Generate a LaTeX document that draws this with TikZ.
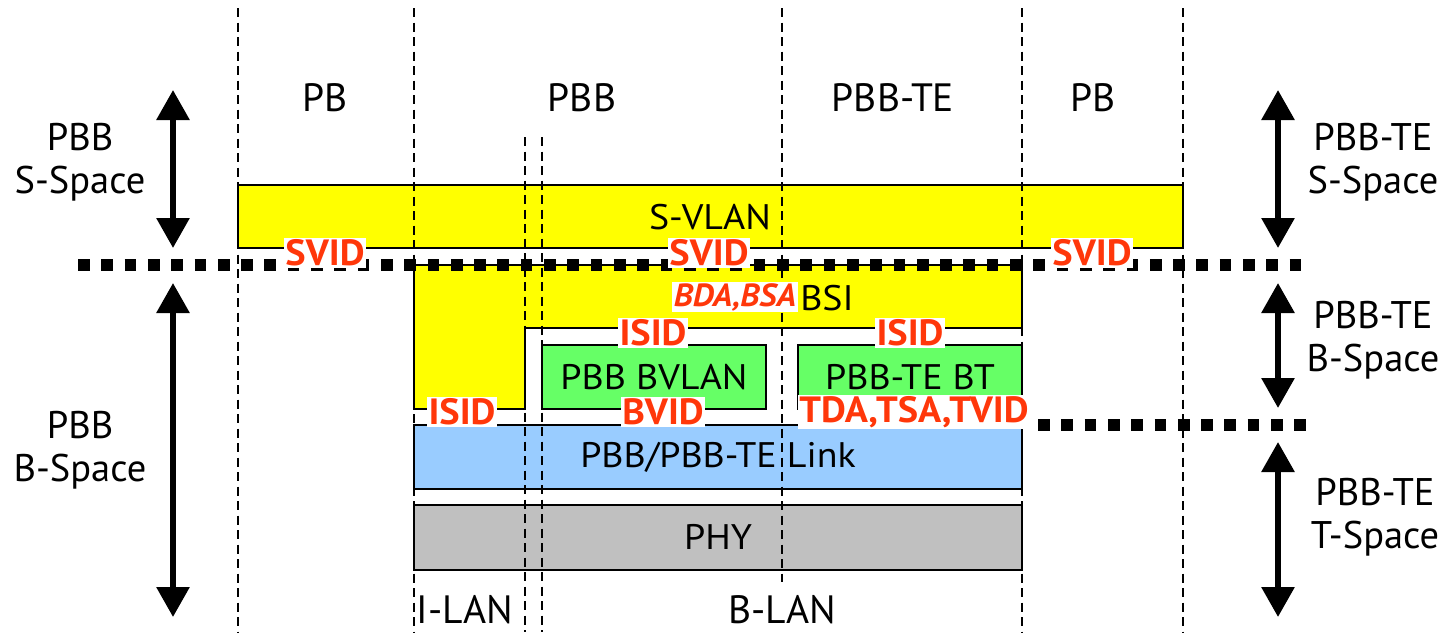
\documentclass[tikz,border=0pt]{standalone}
\usepackage{fontspec}
\setmainfont{PT Sans}
\newfontfamily\boxfont{PT Sans}[FakeStretch=1.07]
\newfontfamily\tagfont{PT Sans}[FakeStretch=1.05]
\usetikzlibrary{arrows.meta}

\definecolor{svlanyellow}{RGB}{255,255,0}
\definecolor{vlangreen}{RGB}{102,255,102}
\definecolor{linkblue}{RGB}{153,204,255}
\definecolor{phygray}{RGB}{192,192,192}
\definecolor{tagred}{RGB}{255,55,10}

\tikzset{
  box/.style={draw=black, line width=2pt, inner sep=0pt, outer sep=0pt,
    anchor=north west},
  outerlabel/.style={align=center, inner sep=0pt, font=\fontsize{39.5}{43}\selectfont},
  sidelabel/.style={align=center, inner sep=0pt, font=\fontsize{38.5}{43}\selectfont},
  boxlabel/.style={inner sep=0pt, font=\boxfont\fontsize{35.5}{38}\selectfont},
  tag/.style={fill=white, text=tagred, inner sep=1.5pt,
    font=\tagfont\bfseries\fontsize{36.5}{38}\selectfont},
  vdash/.style={line width=1.8pt, dash pattern=on 9pt off 5.5pt},
  dotrule/.style={line width=11.5pt, dash pattern=on 11.7pt off 11.6pt},
  span/.style={line width=6pt, {Triangle[width=32pt,length=30pt]}-{Triangle[width=32pt,length=30pt]}},
}

\begin{document}
\begin{tikzpicture}[x=1pt,y=-1pt]
\useasboundingbox (0,0) rectangle (1445,632);

% layer boxes
\node[box, fill=svlanyellow, minimum width=945pt, minimum height=63pt] (svlan) at (238,185) {};
\draw[line width=2pt, fill=svlanyellow]
  (414,265) -- (1022,265) -- (1022,328) -- (525,328) -- (525,409) -- (414,409) -- cycle;
\node[box, fill=vlangreen, minimum width=224pt, minimum height=64pt] (bvlan) at (542,345) {};
\node[box, fill=vlangreen, minimum width=224pt, minimum height=64pt] (bt) at (798,345) {};
\node[box, fill=linkblue, minimum width=608pt, minimum height=64pt] (link) at (414,425) {};
\node[box, fill=phygray, minimum width=608pt, minimum height=65pt] (phy) at (414,505) {};

% vertical domain boundaries
\foreach \x/\t/\b [count=\i] in {238/8/632, 414/8/632, 525/137/632, 542/137/632,
                                 782/8/582, 1022/8/632, 1183/8/632} {
  \coordinate (vt\i) at (\x,\t);
  \coordinate (vb\i) at (\x,\b);
  \draw[vdash] (vt\i) -- (vb\i);
}

% space separators
\coordinate (s1l) at (78,265);
\coordinate (s1r) at (1308,265);
\draw[dotrule] (s1l) -- (s1r);
\coordinate (s2l) at (1038,425);
\coordinate (s2r) at (1308,425);
\draw[dotrule] (s2l) -- (s2r);

% box texts
\node[boxlabel] (tsvlan) at (710,217) {S-VLAN};
\node[boxlabel] (tbsi) at (827,298) {BSI};
\node[boxlabel] (tbvlan) at (654,377) {PBB BVLAN};
\node[boxlabel] (tbt) at (910,377) {PBB-TE BT};
\node[boxlabel] (tlink) at (718,457) {PBB/PBB-TE Link};
\node[boxlabel] (tphy) at (718,537) {PHY};

% identifier tags
\node[tag] (svid1) at (325,253) {SVID};
\node[tag] (svid2) at (709,253) {SVID};
\node[tag] (svid3) at (1092,253) {SVID};
\node[tag, font=\tagfont\bfseries\itshape\fontsize{32}{34}\selectfont] (bda) at (735,297) {BDA,BSA};
\node[tag] (isid1) at (653,333) {ISID};
\node[tag] (isid2) at (910,333) {ISID};
\node[tag] (isid3) at (462,412) {ISID};
\node[tag] (bvid) at (663,412) {BVID};
\node[tag] (tda) at (914,412) {TDA,TSA,TVID};

% column headings
\node[outerlabel] (hpb1) at (325,98) {PB};
\node[outerlabel] (hpbb) at (582,98) {PBB};
\node[outerlabel] (hte) at (893,98) {PBB-TE};
\node[outerlabel] (hpb2) at (1093,98) {PB};
\node[outerlabel] (hilan) at (465,610) {I-LAN};
\node[outerlabel] (hblan) at (782,610) {B-LAN};

% space labels
\node[sidelabel] (lss) at (80,162) {PBB\\S-Space};
\node[sidelabel] (lbs) at (80,450) {PBB\\B-Space};
\node[sidelabel] (rss) at (1373,162) {PBB-TE\\S-Space};
\node[sidelabel] (rbs) at (1373,340) {PBB-TE\\B-Space};
\node[sidelabel] (rts) at (1375,517) {PBB-TE\\T-Space};

% space extents
\coordinate (la1) at (173,90);  \coordinate (la2) at (173,248);
\coordinate (la3) at (173,283); \coordinate (la4) at (173,617);
\coordinate (ra1) at (1278,90);  \coordinate (ra2) at (1278,248);
\coordinate (ra3) at (1278,283); \coordinate (ra4) at (1278,408);
\coordinate (ra5) at (1278,442); \coordinate (ra6) at (1278,617);
\draw[span] (la1) -- (la2);
\draw[span] (la3) -- (la4);
\draw[span] (ra1) -- (ra2);
\draw[span] (ra3) -- (ra4);
\draw[span] (ra5) -- (ra6);
\end{tikzpicture}
\end{document}
